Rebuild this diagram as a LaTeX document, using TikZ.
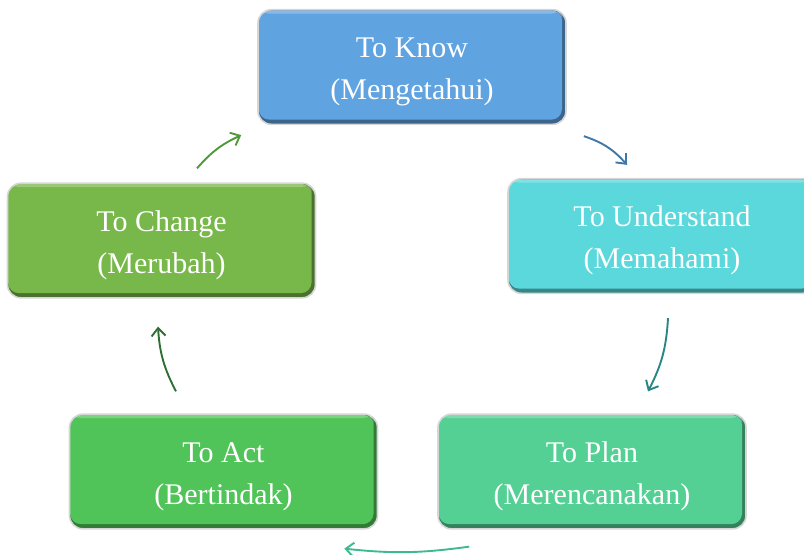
\documentclass[tikz,border=0pt]{standalone}
\usepackage{fontspec}
\setmainfont{Liberation Serif}
\usepackage{xcolor,tikz}
\usetikzlibrary{arrows.meta}

\definecolor{knowblue}{HTML}{5FA3E0}
\definecolor{undcyan}{HTML}{5AD8DB}
\definecolor{changegreen}{HTML}{78B84A}
\definecolor{actgreen}{HTML}{50C458}
\definecolor{planmint}{HTML}{55D095}

\definecolor{arrowone}{HTML}{3F78A8}
\definecolor{arrowtwo}{HTML}{2A8585}
\definecolor{arrowthree}{HTML}{3DBA90}
\definecolor{arrowfour}{HTML}{2D6E35}
\definecolor{arrowfive}{HTML}{4E9A38}

\tikzset{
	stagebox/.style={rounded corners=10pt, minimum width=231pt, minimum height=86pt,
		draw=black!16, line width=1.2pt, text=white, align=center,
		font=\fontsize{22.5}{31.5}\selectfont, fill=#1!62!black,
		text height=54pt, text depth=5pt,
		path picture={
			\fill[#1, rounded corners=8pt] ([shift={(0.5pt,-0.5pt)}]path picture bounding box.north west) rectangle ([shift={(-3pt,3.5pt)}]path picture bounding box.south east);
			\fill[white, opacity=0.25, rounded corners=8pt] ([shift={(0.5pt,-0.5pt)}]path picture bounding box.north west) rectangle ([shift={(-3pt,-3pt)}]path picture bounding box.north east);
		}},
	cycarrow/.style={-{Straight Barb[length=6pt,width=10.5pt]}, line width=0.5mm, bend left=#1}
}

\begin{document}
\begin{tikzpicture}[x=0.75pt, y=-0.75pt]
			
			\useasboundingbox (0,0) rectangle (804,555);
			\clip (0,0) rectangle (804,555);
			
			\node[stagebox=knowblue] (know) at (412,67) {To Know\\(Mengetahui)};
			\node[stagebox=undcyan] (understand) at (662,236) {To Understand\\(Memahami)};
			\node[stagebox=planmint] (plan) at (592,471.5) {To Plan\\(Merencanakan)};
			\node[stagebox=actgreen] (act) at (223.5,471.5) {To Act\\(Bertindak)};
			\node[stagebox=changegreen] (change) at (161.5,240.5) {To Change\\(Merubah)};
			
			\draw[cycarrow=15, arrowone] ([shift={(17,11)}]know.south east) to ([shift={(-35,-13)}]understand.north);
			\draw[cycarrow=12, arrowtwo] ([shift={(6,24)}]understand.south) to ([shift={(56,-22)}]plan.north);
			\draw[cycarrow=7, arrowthree] ([shift={(32,17)}]plan.south west) to ([shift={(-34,19)}]act.south east);
			\draw[cycarrow=12, arrowfour] ([shift={(-47.5,-22)}]act.north) to ([shift={(-3.5,28)}]change.south);
			\draw[cycarrow=12, arrowfive] ([shift={(35.5,-14)}]change.north) to ([shift={(-16,10)}]know.south west);
			
		\end{tikzpicture}
\end{document}
